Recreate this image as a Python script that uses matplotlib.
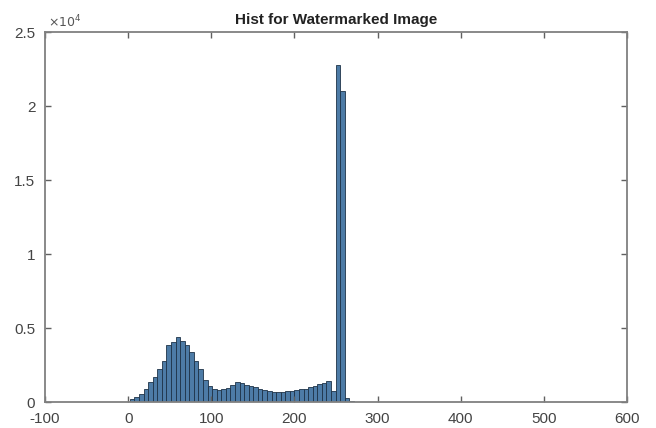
import numpy as np
import matplotlib
matplotlib.use("Agg")
import matplotlib.pyplot as plt
from matplotlib.ticker import FuncFormatter

# histogram of watermarked image, 50 bins
bin_lo = 2
bin_hi = 277
n_bins = 50
counts = [200, 360, 550, 850, 1370, 1700, 2250, 2800, 3830, 4050,
          4400, 4150, 3830, 3400, 2800, 2200, 1500, 1050, 850, 800,
          850, 950, 1150, 1370, 1280, 1180, 1100, 1000, 880, 800,
          720, 700, 700, 700, 710, 720, 800, 860, 900, 1000,
          1100, 1200, 1300, 1440, 750, 22800, 21000, 300, 80, 0]
x_ticks = [-100, 0, 100, 200, 300, 400, 500, 600]
y_ticks = [0, 5000, 10000, 15000, 20000, 25000]
title = "Hist for Watermarked Image"

plt.rcParams["font.family"] = ["Liberation Sans", "DejaVu Sans"]
plt.rcParams["axes.unicode_minus"] = False

edges = np.linspace(bin_lo, bin_hi, n_bins + 1)
centers = (edges[:-1] + edges[1:]) / 2
width = edges[1] - edges[0]

fig = plt.figure(figsize=(6.56, 4.28), dpi=100)
ax = fig.add_axes([45 / 656, 1 - 402 / 428, (627 - 45) / 656, (402 - 32) / 428])

ax.bar(centers, counts, width=width, color="#4d7ba6", edgecolor="#1e3348",
       linewidth=0.6, align="center")

ax.set_xlim(-100, 600)
ax.set_ylim(0, 25000)
ax.set_xticks(x_ticks)
ax.set_yticks(y_ticks)
ax.yaxis.set_major_formatter(FuncFormatter(lambda v, p: f"{v / 1e4:g}"))
ax.xaxis.set_major_formatter(FuncFormatter(lambda v, p: f"{v:g}"))
ax.text(0.005, 1.004, r"$\times10^4$", transform=ax.transAxes, fontsize=9,
        color="#555555", ha="left", va="bottom")

for s in ax.spines.values():
    s.set_color("#808080")
    s.set_linewidth(1.3)
ax.tick_params(direction="in", length=4, width=1, color="#606060",
               top=True, right=True, labelsize=11, labelcolor="#444444")
ax.tick_params(axis="x", pad=7)
ax.tick_params(axis="y", pad=7)
ax.set_title(title, fontsize=11, fontweight="bold", color="#222222", pad=6)

fig.savefig("out.png", dpi=100)
plt.close(fig)
